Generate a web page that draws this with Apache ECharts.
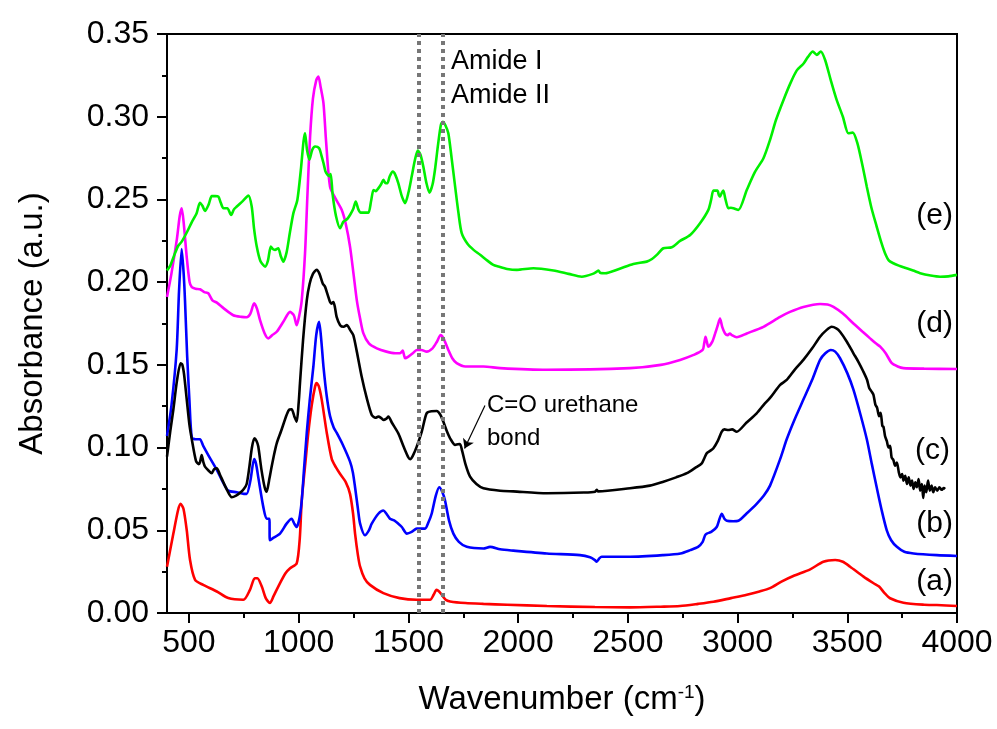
<!DOCTYPE html>
<html>
<head>
<meta charset="utf-8">
<script src="https://cdn.jsdelivr.net/npm/echarts@6/dist/echarts.min.js"></script>
<style>html,body{margin:0;padding:0;background:#fff}#chart{width:997px;height:729px}</style>
</head>
<body>
<div id="chart"></div>
<script>
// x tick values
const xTicks = [500,1000,1500,2000,2500,3000,3500,4000];
const xMinorTicks = [750,1250,1750,2250,2750,3250,3750];
// dotted reference lines (Amide II, Amide I)
const amideLines = [1545, 1655];
// curve labels
const curveLabels = ['(a)','(b)','(c)','(d)','(e)'];

// (a) red
const seriesA = [[400,0.028],[429,0.048],[450,0.062],[462,0.066],[475,0.063],[490,0.050],[505,0.032],[528,0.020],[565,0.017],[627,0.013],[679,0.009],[748,0.008],[778,0.014],[800,0.021],[812,0.021],[832,0.016],[850,0.009],[869,0.006],[885,0.010],[907,0.016],[940,0.024],[961,0.027],[991,0.030],[1005,0.045],[1014,0.068],[1030,0.090],[1044,0.109],[1060,0.126],[1075,0.137],[1082,0.139],[1092,0.137],[1105,0.129],[1128,0.109],[1151,0.093],[1170,0.088],[1189,0.084],[1215,0.079],[1234,0.072],[1248,0.060],[1257,0.048],[1270,0.035],[1280,0.028],[1300,0.021],[1325,0.017],[1386,0.012],[1460,0.009],[1538,0.008],[1599,0.008],[1615,0.011],[1628,0.014],[1640,0.013],[1652,0.011],[1670,0.008],[1690,0.007],[1760,0.006],[1842,0.0055],[1950,0.005],[2131,0.0042],[2350,0.0036],[2510,0.0034],[2650,0.0038],[2738,0.0042],[2820,0.0055],[2890,0.0068],[2970,0.009],[3042,0.011],[3100,0.013],[3148,0.015],[3200,0.019],[3254,0.0224],[3331,0.0264],[3391,0.031],[3445,0.032],[3480,0.031],[3513,0.028],[3574,0.022],[3620,0.018],[3645,0.016],[3670,0.012],[3695,0.0089],[3756,0.0062],[3850,0.005],[3908,0.0048],[4000,0.0042]];

// (b) blue
const seriesB = [[400,0.107],[420,0.125],[444,0.159],[455,0.195],[467,0.220],[476,0.205],[482,0.189],[492,0.155],[502,0.129],[513,0.106],[530,0.105],[550,0.105],[565,0.101],[590,0.095],[627,0.0865],[655,0.079],[679,0.074],[718,0.073],[750,0.072],[763,0.072],[780,0.080],[797,0.093],[806,0.090],[816,0.082],[839,0.064],[854,0.057],[866,0.057],[869,0.044],[880,0.045],[915,0.048],[945,0.054],[968,0.057],[980,0.054],[991,0.052],[1003,0.057],[1014,0.068],[1025,0.088],[1037,0.109],[1050,0.128],[1067,0.149],[1080,0.168],[1093,0.176],[1103,0.165],[1113,0.149],[1128,0.131],[1143,0.119],[1160,0.112],[1173,0.109],[1200,0.102],[1234,0.0915],[1247,0.085],[1257,0.076],[1270,0.063],[1280,0.054],[1302,0.047],[1320,0.050],[1333,0.054],[1363,0.060],[1386,0.062],[1400,0.060],[1416,0.057],[1435,0.056],[1454,0.054],[1470,0.052],[1493,0.048],[1515,0.049],[1538,0.051],[1560,0.051],[1576,0.051],[1592,0.055],[1606,0.060],[1625,0.071],[1641,0.076],[1655,0.073],[1667,0.068],[1685,0.056],[1705,0.048],[1730,0.043],[1766,0.040],[1842,0.039],[1872,0.040],[1918,0.0385],[1978,0.0377],[2131,0.036],[2282,0.035],[2328,0.0337],[2350,0.032],[2358,0.031],[2370,0.033],[2381,0.034],[2510,0.034],[2662,0.035],[2740,0.036],[2784,0.038],[2820,0.040],[2841,0.043],[2852,0.047],[2860,0.048],[2880,0.049],[2905,0.052],[2918,0.057],[2928,0.060],[2940,0.057],[2951,0.0558],[2980,0.0555],[3004,0.0558],[3040,0.060],[3087,0.066],[3120,0.071],[3148,0.077],[3194,0.093],[3224,0.105],[3260,0.117],[3300,0.129],[3340,0.141],[3376,0.153],[3400,0.157],[3425,0.159],[3445,0.158],[3467,0.154],[3500,0.145],[3528,0.135],[3560,0.120],[3589,0.105],[3612,0.090],[3634,0.076],[3657,0.062],[3680,0.050],[3700,0.044],[3726,0.040],[3760,0.037],[3802,0.036],[3908,0.035],[4000,0.0345]];

// (c) black
const seriesC = [[400,0.0945],[415,0.110],[429,0.123],[445,0.140],[462,0.151],[470,0.150],[478,0.144],[490,0.129],[502,0.114],[513,0.105],[532,0.092],[545,0.090],[550,0.091],[558,0.0955],[566,0.091],[573,0.0885],[590,0.086],[604,0.0845],[615,0.087],[627,0.0875],[640,0.084],[657,0.079],[675,0.074],[695,0.070],[715,0.071],[733,0.0727],[750,0.075],[763,0.078],[775,0.088],[787,0.100],[798,0.1056],[808,0.104],[816,0.1006],[830,0.087],[845,0.076],[854,0.0733],[865,0.080],[877,0.0885],[890,0.097],[900,0.1026],[920,0.110],[945,0.1197],[958,0.123],[968,0.1231],[980,0.119],[991,0.1157],[1000,0.127],[1006,0.139],[1020,0.165],[1037,0.189],[1050,0.199],[1065,0.205],[1082,0.2074],[1095,0.205],[1110,0.199],[1120,0.1973],[1133,0.192],[1143,0.188],[1150,0.187],[1158,0.188],[1165,0.185],[1173,0.179],[1189,0.174],[1205,0.173],[1219,0.174],[1235,0.171],[1249,0.168],[1265,0.158],[1287,0.143],[1310,0.130],[1333,0.1197],[1350,0.118],[1363,0.1187],[1375,0.118],[1386,0.1167],[1400,0.1175],[1409,0.1187],[1425,0.115],[1454,0.1086],[1480,0.100],[1500,0.094],[1508,0.093],[1520,0.095],[1538,0.1006],[1561,0.1096],[1583,0.1207],[1605,0.122],[1629,0.1221],[1645,0.120],[1659,0.1157],[1675,0.110],[1690,0.1056],[1713,0.1016],[1725,0.102],[1735,0.1022],[1745,0.098],[1760,0.090],[1781,0.0824],[1810,0.078],[1842,0.0754],[1918,0.0739],[1978,0.0735],[2131,0.0724],[2300,0.0728],[2351,0.0733],[2358,0.0745],[2365,0.0735],[2510,0.0754],[2600,0.077],[2662,0.0794],[2720,0.082],[2769,0.0845],[2810,0.088],[2837,0.0905],[2850,0.094],[2860,0.0966],[2875,0.098],[2890,0.0996],[2910,0.104],[2928,0.1096],[2940,0.111],[2958,0.1106],[2975,0.111],[2996,0.1096],[3040,0.115],[3087,0.1207],[3120,0.126],[3148,0.130],[3194,0.1379],[3224,0.1409],[3260,0.147],[3300,0.153],[3340,0.160],[3376,0.167],[3405,0.171],[3429,0.173],[3450,0.172],[3467,0.170],[3498,0.164],[3528,0.157],[3550,0.152],[3573,0.146],[3590,0.141],[3600,0.136],[3610,0.134],[3619,0.132],[3628,0.126],[3636,0.124],[3645,0.119],[3652,0.121],[3660,0.113],[3665,0.1126],[3672,0.107],[3680,0.104],[3688,0.100],[3695,0.101],[3702,0.094],[3710,0.0925],[3718,0.089],[3726,0.091],[3735,0.085],[3742,0.082],[3750,0.084],[3756,0.080],[3764,0.083],[3772,0.078],[3780,0.082],[3788,0.077],[3795,0.080],[3802,0.075],[3810,0.079],[3817,0.076],[3825,0.081],[3832,0.074],[3840,0.078],[3846,0.0695],[3852,0.077],[3860,0.073],[3868,0.080],[3876,0.074],[3884,0.077],[3892,0.073],[3900,0.076],[3910,0.074],[3920,0.076],[3930,0.0745],[3940,0.0755],[3946,0.075]];

// (d) magenta
const seriesD = [[400,0.191],[420,0.205],[445,0.226],[458,0.240],[467,0.2447],[476,0.236],[490,0.215],[503,0.200],[513,0.197],[530,0.196],[550,0.1957],[570,0.194],[588,0.1933],[607,0.189],[627,0.1876],[660,0.184],[702,0.180],[740,0.179],[763,0.1788],[780,0.181],[797,0.1872],[810,0.184],[824,0.177],[845,0.169],[862,0.166],[880,0.168],[900,0.170],[930,0.176],[961,0.182],[978,0.180],[991,0.174],[1003,0.180],[1014,0.189],[1029,0.2175],[1040,0.253],[1052,0.288],[1065,0.311],[1080,0.322],[1090,0.3243],[1100,0.318],[1113,0.3082],[1125,0.285],[1143,0.2577],[1170,0.250],[1196,0.2437],[1215,0.235],[1234,0.2215],[1250,0.205],[1265,0.189],[1280,0.178],[1295,0.169],[1320,0.163],[1356,0.160],[1400,0.158],[1440,0.157],[1462,0.157],[1474,0.1586],[1480,0.156],[1485,0.154],[1500,0.155],[1520,0.157],[1538,0.159],[1560,0.159],[1583,0.158],[1610,0.160],[1630,0.164],[1647,0.168],[1660,0.166],[1682,0.159],[1700,0.154],[1720,0.151],[1760,0.149],[1842,0.149],[1918,0.148],[2131,0.147],[2510,0.148],[2650,0.150],[2738,0.153],[2800,0.156],[2841,0.159],[2848,0.163],[2854,0.167],[2860,0.164],[2867,0.161],[2885,0.164],[2898,0.169],[2910,0.174],[2920,0.178],[2930,0.173],[2943,0.169],[2955,0.168],[2965,0.169],[2974,0.168],[2996,0.1667],[3042,0.169],[3118,0.173],[3194,0.179],[3239,0.182],[3300,0.185],[3376,0.1868],[3410,0.1865],[3437,0.185],[3480,0.181],[3528,0.175],[3570,0.170],[3604,0.166],[3630,0.163],[3650,0.161],[3675,0.157],[3703,0.151],[3730,0.149],[3756,0.148],[3850,0.1477],[4000,0.1475]];

// (e) green
const seriesE = [[400,0.207],[415,0.210],[435,0.217],[451,0.222],[467,0.2245],[490,0.230],[512,0.236],[535,0.2417],[550,0.248],[562,0.246],[573,0.243],[590,0.247],[604,0.252],[620,0.252],[634,0.2517],[645,0.248],[657,0.2447],[675,0.2447],[692,0.2406],[705,0.244],[718,0.2457],[745,0.249],[771,0.2523],[786,0.2457],[797,0.232],[809,0.2215],[825,0.213],[847,0.2094],[860,0.213],[873,0.2215],[882,0.220],[892,0.2195],[907,0.2205],[918,0.216],[930,0.2124],[945,0.218],[960,0.230],[976,0.2417],[994,0.2497],[1010,0.268],[1022,0.285],[1029,0.290],[1038,0.280],[1049,0.274],[1062,0.280],[1075,0.282],[1093,0.281],[1103,0.277],[1113,0.272],[1122,0.267],[1131,0.265],[1140,0.264],[1146,0.2654],[1155,0.2527],[1170,0.240],[1189,0.2326],[1204,0.2366],[1220,0.238],[1234,0.2406],[1248,0.244],[1260,0.2487],[1272,0.244],[1283,0.242],[1300,0.242],[1318,0.242],[1330,0.249],[1341,0.2557],[1352,0.255],[1363,0.2567],[1375,0.259],[1386,0.2618],[1395,0.260],[1404,0.2598],[1415,0.264],[1429,0.2668],[1440,0.265],[1454,0.2598],[1470,0.252],[1485,0.2477],[1500,0.254],[1515,0.2638],[1530,0.274],[1543,0.2795],[1555,0.277],[1568,0.2699],[1582,0.260],[1596,0.2541],[1610,0.259],[1621,0.2678],[1635,0.283],[1648,0.295],[1657,0.297],[1668,0.295],[1682,0.290],[1697,0.275],[1713,0.2577],[1728,0.242],[1743,0.2296],[1770,0.223],[1797,0.2195],[1827,0.2165],[1860,0.213],[1887,0.2104],[1911,0.2094],[1950,0.208],[1994,0.2074],[2070,0.2084],[2161,0.207],[2230,0.205],[2290,0.2033],[2340,0.205],[2360,0.2065],[2366,0.207],[2375,0.2055],[2396,0.2054],[2460,0.208],[2525,0.211],[2586,0.2124],[2610,0.214],[2632,0.2165],[2662,0.2205],[2700,0.2211],[2738,0.2249],[2784,0.2285],[2829,0.2356],[2867,0.2437],[2880,0.250],[2890,0.2553],[2908,0.2553],[2915,0.2525],[2920,0.2517],[2928,0.254],[2935,0.2553],[2945,0.250],[2958,0.2447],[2970,0.245],[2981,0.2447],[3004,0.2437],[3042,0.2557],[3080,0.2668],[3118,0.2749],[3148,0.286],[3175,0.298],[3209,0.310],[3240,0.320],[3270,0.328],[3300,0.332],[3320,0.336],[3343,0.3394],[3361,0.3374],[3379,0.3394],[3399,0.3343],[3425,0.322],[3452,0.310],[3480,0.300],[3505,0.290],[3525,0.2904],[3546,0.284],[3570,0.270],[3589,0.2577],[3610,0.245],[3634,0.2336],[3655,0.224],[3672,0.2175],[3690,0.213],[3710,0.2114],[3735,0.210],[3756,0.209],[3800,0.207],[3832,0.2054],[3880,0.204],[3923,0.2033],[3960,0.2035],[4000,0.2044]];

// arrow for C=O urethane annotation (data coords)
const arrowFrom = [1849, 0.1255];
const arrowTo = [1756, 0.0995];

const FONT = '"Liberation Sans", Arial, sans-serif';
const chart = echarts.init(document.getElementById('chart'), null, {renderer: 'canvas'});

function lineSeries(name, data, color, extra) {
  return Object.assign({
    name: name, type: 'line', data: data, showSymbol: false, symbol: 'none',
    smooth: 0.25, lineStyle: {color: color, width: 2.6}, itemStyle: {color: color},
    xAxisIndex: 0, yAxisIndex: 0, silent: true
  }, extra || {});
}

const option = {
  animation: false,
  backgroundColor: '#ffffff',
  grid: {left: 167, right: 40, top: 34, bottom: 116, show: true, borderColor: '#000', borderWidth: 2, backgroundColor: 'transparent'},
  xAxis: [{
    type: 'value', min: 400, max: 4000, position: 'bottom',
    axisLine: {show: true, onZero: false, lineStyle: {color: '#000', width: 2}},
    axisTick: {show: true, inside: false, length: 10, customValues: xTicks, lineStyle: {color: '#000', width: 2}},
    axisLabel: {customValues: xTicks, fontSize: 32, color: '#000', fontFamily: FONT, margin: 14, formatter: v => String(v)},
    splitLine: {show: false},
    name: 'Wavenumber (cm{sup|-1})', nameLocation: 'middle', nameGap: 70,
    nameTextStyle: {fontSize: 33, color: '#000', fontFamily: FONT,
      rich: {sup: {fontSize: 19, color: '#000', fontFamily: FONT, verticalAlign: 'top', padding: [0, 0, 14, 0]}}}
  }, {
    type: 'value', min: 400, max: 4000, position: 'bottom',
    axisLine: {show: false, onZero: false},
    axisTick: {show: true, inside: false, length: 5, customValues: xMinorTicks, lineStyle: {color: '#000', width: 2}},
    axisLabel: {show: false, customValues: xMinorTicks},
    splitLine: {show: false}
  }],
  yAxis: [{
    type: 'value', min: 0, max: 0.35, interval: 0.05,
    axisLine: {show: true, onZero: false, lineStyle: {color: '#000', width: 2}},
    axisTick: {show: true, inside: false, length: 10, lineStyle: {color: '#000', width: 2}},
    minorTick: {show: true, splitNumber: 2, length: 5, lineStyle: {color: '#000', width: 2}},
    axisLabel: {fontSize: 32, color: '#000', fontFamily: FONT, margin: 18, formatter: v => v.toFixed(2)},
    splitLine: {show: false}, minorSplitLine: {show: false},
    name: 'Absorbance (a.u.)', nameLocation: 'middle', nameGap: 118,
    nameTextStyle: {fontSize: 33, color: '#000', fontFamily: FONT}
  }],
  series: [
    lineSeries('(a)', seriesA, '#ff0000', {
      markLine: {silent: true, symbol: ['none', 'none'], animation: false,
        label: {show: false},
        lineStyle: {color: '#777777', type: [4, 4], width: 4},
        data: amideLines.map(v => ({xAxis: v}))}
    }),
    lineSeries('(b)', seriesB, '#0000ff'),
    lineSeries('(c)', seriesC, '#000000', {
      markLine: {silent: true, animation: false, symbolSize: 9,
        label: {show: false},
        lineStyle: {color: '#000', type: 'solid', width: 1.2},
        data: [[{coord: arrowFrom, symbol: 'none'}, {coord: arrowTo, symbol: 'arrow'}]]}
    }),
    lineSeries('(d)', seriesD, '#ff00ff'),
    lineSeries('(e)', seriesE, '#00f000')
  ],
  graphic: [
    {type: 'text', x: 451, y: 62, silent: true, style: {text: 'Amide I', font: '27px ' + FONT, fill: '#000', verticalAlign: 'middle'}},
    {type: 'text', x: 451, y: 96, silent: true, style: {text: 'Amide II', font: '27px ' + FONT, fill: '#000', verticalAlign: 'middle'}},
    {type: 'text', x: 487, y: 405, silent: true, style: {text: 'C=O urethane', font: '24px ' + FONT, fill: '#000', verticalAlign: 'middle'}},
    {type: 'text', x: 487, y: 438, silent: true, style: {text: 'bond', font: '24px ' + FONT, fill: '#000', verticalAlign: 'middle'}},
    {type: 'text', x: 953, y: 216, silent: true, style: {text: curveLabels[4], font: '30px ' + FONT, fill: '#000', align: 'right', verticalAlign: 'middle'}},
    {type: 'text', x: 953, y: 324, silent: true, style: {text: curveLabels[3], font: '30px ' + FONT, fill: '#000', align: 'right', verticalAlign: 'middle'}},
    {type: 'text', x: 950, y: 451, silent: true, style: {text: curveLabels[2], font: '30px ' + FONT, fill: '#000', align: 'right', verticalAlign: 'middle'}},
    {type: 'text', x: 953, y: 524, silent: true, style: {text: curveLabels[1], font: '30px ' + FONT, fill: '#000', align: 'right', verticalAlign: 'middle'}},
    {type: 'text', x: 953, y: 582, silent: true, style: {text: curveLabels[0], font: '30px ' + FONT, fill: '#000', align: 'right', verticalAlign: 'middle'}}
  ]
};
chart.setOption(option);
</script>
</body>
</html>
